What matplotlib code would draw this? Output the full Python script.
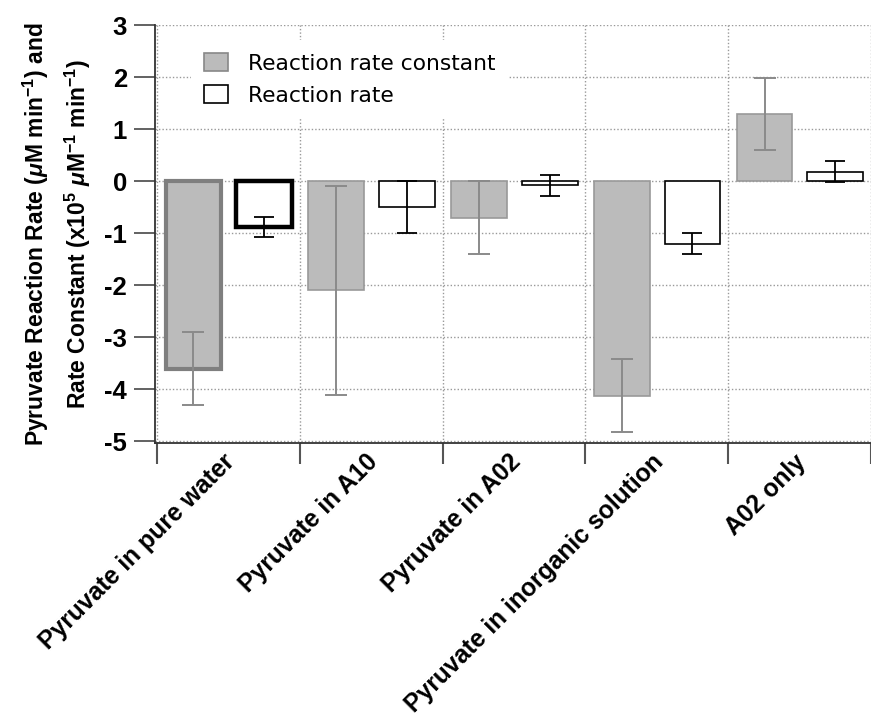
import matplotlib
matplotlib.use("Agg")
import matplotlib.pyplot as plt
from matplotlib.patches import Patch
from matplotlib.transforms import ScaledTranslation
import numpy as np

plt.rcParams['font.family'] = ['Liberation Sans', 'DejaVu Sans']
plt.rcParams['mathtext.fontset'] = 'custom'
plt.rcParams['mathtext.rm'] = 'Liberation Sans:bold'
plt.rcParams['mathtext.bf'] = 'Liberation Sans:bold'
plt.rcParams['mathtext.it'] = 'Liberation Sans:italic:bold'
plt.rcParams['mathtext.default'] = 'it'

# data
categories = ['Pyruvate in pure water', 'Pyruvate in A10', 'Pyruvate in A02',
              'Pyruvate in inorganic solution', 'A02 only']
rate_constant = [-3.6, -2.1, -0.7, -4.12, 1.29]
rate_constant_err = [0.7, 2.0, 0.7, 0.7, 0.7]
rate = [-0.88, -0.5, -0.08, -1.2, 0.18]
rate_err = [0.2, 0.5, 0.2, 0.2, 0.2]
legend_labels = ['Reaction rate constant', 'Reaction rate']

# first group is drawn with heavy outlines
gray_edge_w = [3.0, 1.2, 1.2, 1.2, 1.2]
white_edge_w = [3.2, 1.2, 1.2, 1.2, 1.2]

fig = plt.figure(figsize=(8.71, 7.16), dpi=100)
ax = fig.add_axes([155/871, 273/716, 716/871, 418/716])

idx = np.arange(len(categories))
w = 0.39
ax.bar(idx + 0.255, rate_constant, width=w, color='#bbbbbb',
       edgecolor=['#7f7f7f', '#999999', '#999999', '#999999', '#999999'],
       linewidth=gray_edge_w, zorder=3)
ax.bar(idx + 0.75, rate, width=w, color='white', edgecolor='black',
       linewidth=white_edge_w, zorder=3)
ax.errorbar(idx + 0.255, rate_constant, yerr=rate_constant_err, fmt='none',
            ecolor='#8a8a8a', elinewidth=1.4, capsize=8, capthick=1.4, zorder=4)
ax.errorbar(idx + 0.75, rate, yerr=rate_err, fmt='none',
            ecolor='black', elinewidth=1.3, capsize=7.5, capthick=1.3, zorder=4)

ax.set_xlim(-0.014, 4.958)
ax.set_ylim(-5.03, 3.0)
ax.set_yticks(np.arange(-5, 4, 1))
ax.set_yticklabels([str(v) for v in range(-5, 4)], fontsize=18.5, fontweight='bold')
ax.set_xticks(np.arange(0, 6, 1))
ax.set_xticklabels([])
ax.set_xticks(idx + 0.5, minor=True)
ax.set_xticklabels(categories, minor=True, rotation=45, ha='right', va='top',
                   rotation_mode='anchor', fontsize=17.8, fontweight='bold')
ax.tick_params(axis='x', which='minor', length=0, pad=5)
ax.tick_params(axis='x', which='major', length=15, width=1.5, color='#555555', direction='out')
ax.tick_params(axis='y', length=15, width=1.3, color='#555555', pad=5)

# nudge the slanted labels left so they end at the group centre
shift = ScaledTranslation(-0.06, 0.0, fig.dpi_scale_trans)
for lab in ax.get_xticklabels(minor=True):
    lab.set_transform(lab.get_transform() + shift)

for s in ['top', 'right']:
    ax.spines[s].set_visible(False)
ax.spines['left'].set_color('#333333')
ax.spines['bottom'].set_color('#333333')
ax.spines['left'].set_linewidth(1.3)
ax.spines['bottom'].set_linewidth(1.3)

ax.set_axisbelow(True)
ax.grid(True, which='major', linestyle=(0, (1, 1.5)), color='#999999', linewidth=1)

ax.set_ylabel('Pyruvate Reaction Rate ($\\mu$M min$^{-1}$) and\n'
              'Rate Constant (x10$^{5}$ $\\mu$M$^{-1}$ min$^{-1}$)',
              fontsize=16.5, fontweight='bold', linespacing=1.5)
ax.yaxis.set_label_coords(-0.087, 0.5)

handles = [Patch(facecolor='#bbbbbb', edgecolor='#888888', linewidth=1.2),
           Patch(facecolor='white', edgecolor='black', linewidth=1.2)]
leg = ax.legend(handles, legend_labels, loc='upper left',
                bbox_to_anchor=(0.05, 0.964), frameon=True, framealpha=1,
                fancybox=False, edgecolor='none', borderaxespad=0,
                prop={'family': 'DejaVu Sans', 'size': 15.7},
                handlelength=1.12, handleheight=0.88, handletextpad=0.9,
                borderpad=0.6, labelspacing=0.53)

fig.savefig('out.png', dpi=100)
